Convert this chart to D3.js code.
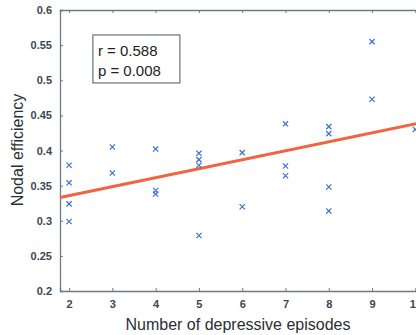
<!DOCTYPE html>
<html><head><meta charset="utf-8">
<script src="https://cdn.jsdelivr.net/npm/d3@7"></script>
<style>body{margin:0;background:#fff}svg{display:block}</style>
</head><body>
<script>
const episodes = [2,2,2,2, 3,3, 4,4,4, 5,5,5,5, 6,6, 7,7,7, 8,8,8,8, 9,9, 10];
const efficiency = [0.379,0.354,0.324,0.299, 0.405,0.368, 0.402,0.343,0.338, 0.396,0.387,0.379,0.279, 0.397,0.320, 0.438,0.378,0.364, 0.434,0.424,0.348,0.314, 0.555,0.473, 0.430];
const xTicks = [2,3,4,5,6,7,8,9,10];
const yTicks = [0.2,0.25,0.3,0.35,0.4,0.45,0.5,0.55,0.6];
const statsText = ["r = 0.588", "p = 0.008"];
const xLabel = "Number of depressive episodes";
const yLabel = "Nodal efficiency";

const W = 416, H = 335;
const m = {left:60, top:10, right:-8, bottom:44};
const svg = d3.select("body").append("svg").attr("width",W).attr("height",H);
const x = d3.scaleLinear().domain([1.79,10.2]).range([m.left, W - m.right]);
const y = d3.scaleLinear().domain([0.2,0.6]).range([H - m.bottom, m.top]);
const axisColor = "#6f7b82";
const font = "Arial, 'Liberation Sans', sans-serif";

// box axes
const xb = d3.axisBottom(x).tickValues(xTicks).tickSize(-3).tickPadding(9).tickFormat(d3.format("d"));
const xt = d3.axisTop(x).tickValues(xTicks).tickSize(-3).tickFormat("");
const yl = d3.axisLeft(y).tickValues(yTicks).tickSize(-3).tickPadding(8).tickFormat(d => d3.format("")(d));
const gb = svg.append("g").attr("transform",`translate(0,${y(0.2)})`).call(xb);
const gt = svg.append("g").attr("transform",`translate(0,${y(0.6)})`).call(xt);
const gl = svg.append("g").attr("transform",`translate(${x.range()[0]},0)`).call(yl);
[gb,gt,gl].forEach(g=>{
  g.select(".domain").attr("stroke",axisColor).attr("stroke-width",1.3);
  g.selectAll(".tick line").attr("stroke",axisColor);
  g.selectAll(".tick text").attr("fill","#3c4650").attr("font-size",11).attr("font-weight","bold").attr("font-family",font);
});

// regression line from data
const mx = d3.mean(episodes), my = d3.mean(efficiency);
let sxy=0,sxx=0;
episodes.forEach((e,i)=>{sxy+=(e-mx)*(efficiency[i]-my);sxx+=(e-mx)*(e-mx);});
const slope = sxy/sxx, icpt = my - slope*mx;
const xd = x.domain();
svg.append("path")
  .datum([xd[0], xd[1]])
  .attr("d", d3.line().x(d=>x(d)).y(d=>y(icpt+slope*d)))
  .attr("stroke","#f2633f").attr("stroke-width",3).attr("fill","none");

// markers
const s = 2.6;
const pts = svg.append("g").selectAll("g").data(episodes.map((e,i)=>[e,efficiency[i]])).join("g")
  .attr("transform", d=>`translate(${x(d[0])},${y(d[1])})`);
pts.append("path").attr("d",`M${-s},${-s}L${s},${s}M${-s},${s}L${s},${-s}`)
  .attr("stroke","#3d6fd6").attr("stroke-width",1.2).attr("fill","none");

// stats box
const bx = x(2.55), by = y(0.5645);
svg.append("rect").attr("x",bx).attr("y",by).attr("width",87).attr("height",48)
  .attr("fill","#fff").attr("stroke","#5c656b").attr("stroke-width",1.1);
svg.append("g").selectAll("text").data(statsText).join("text")
  .attr("x",bx+5).attr("y",(d,i)=>by+21+i*20)
  .attr("font-size",15).attr("font-family",font).attr("fill","#222").text(d=>d);

// labels
svg.append("text").attr("x",238).attr("y",330).attr("text-anchor","middle")
  .attr("font-size",16).attr("font-family",font).attr("fill","#2a2f33").text(xLabel);
svg.append("text").attr("transform","translate(23,150) rotate(-90)").attr("text-anchor","middle")
  .attr("font-size",16).attr("font-family",font).attr("fill","#2a2f33").text(yLabel);
</script>
</body></html>
